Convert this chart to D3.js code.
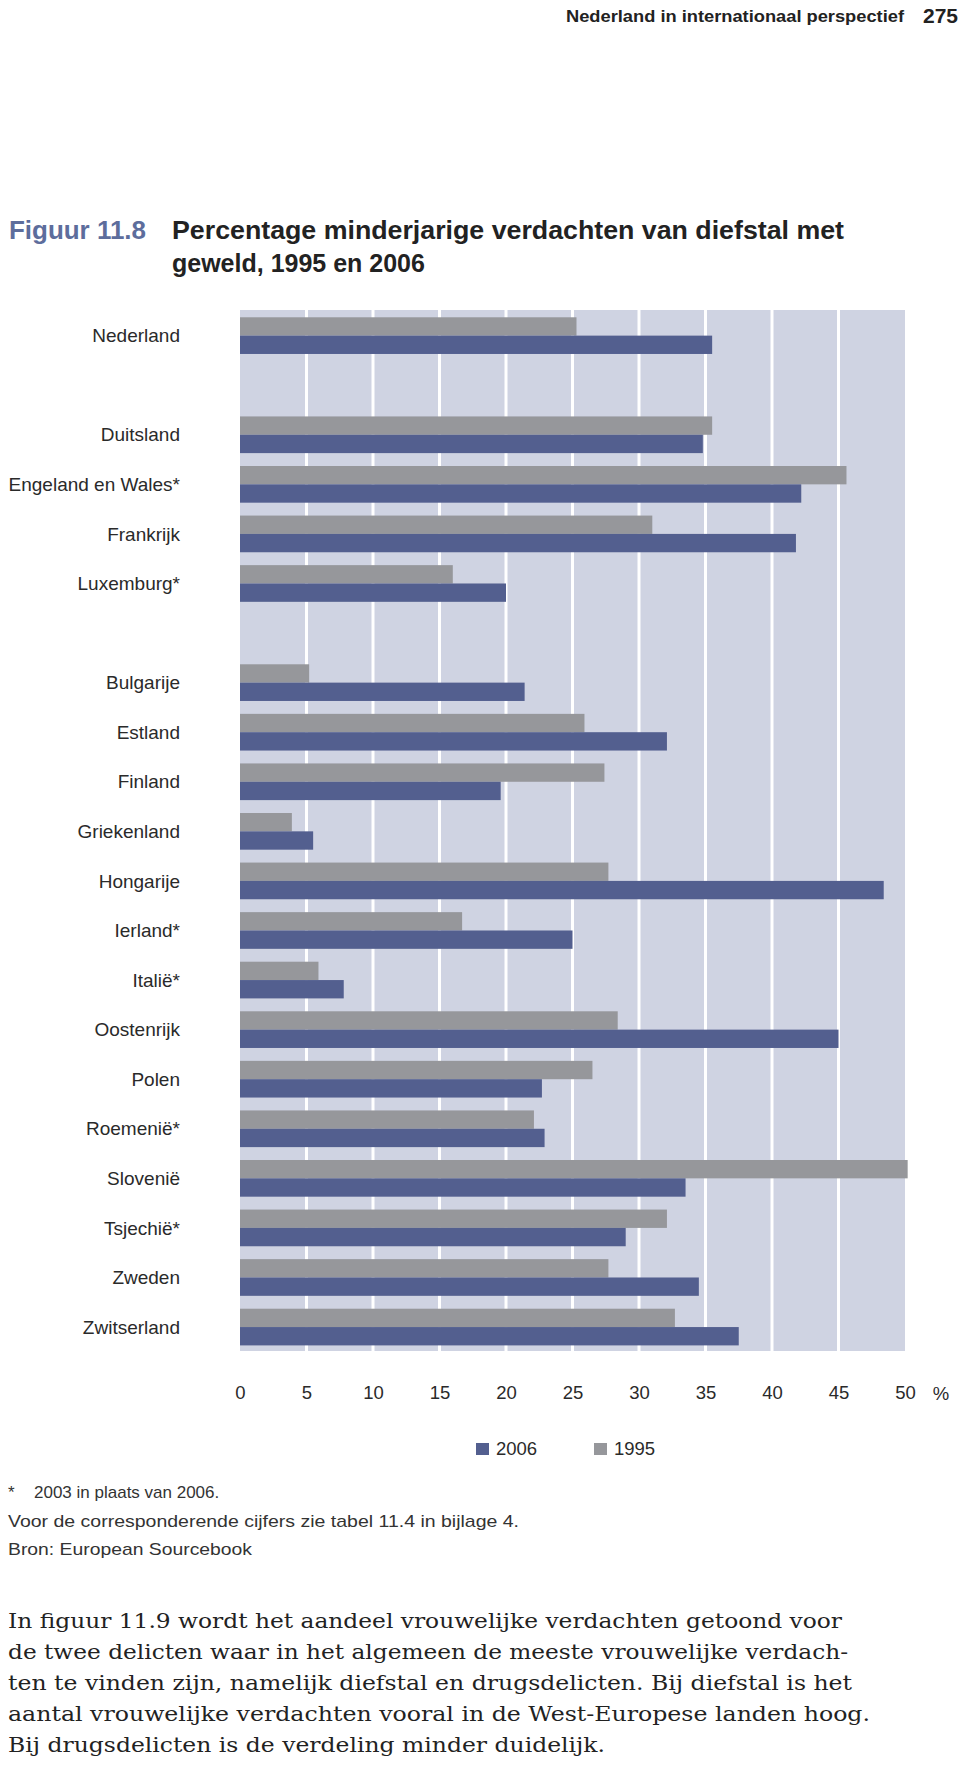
<!DOCTYPE html>
<html>
<head>
<meta charset="utf-8">
<script src="https://cdn.jsdelivr.net/npm/d3@7"></script>
<style>
  html, body { margin: 0; padding: 0; background: #fff; }
  svg { display: block; font-family: "Liberation Sans", Arial, sans-serif; }
</style>
</head>
<body>
<script>
// ---- data ----
const categories = ["Nederland", "Duitsland", "Engeland en Wales*", "Frankrijk", "Luxemburg*",
  "Bulgarije", "Estland", "Finland", "Griekenland", "Hongarije", "Ierland*", "Italië*",
  "Oostenrijk", "Polen", "Roemenië*", "Slovenië", "Tsjechië*", "Zweden", "Zwitserland"];
const groupStarts = ["Duitsland", "Bulgarije"]; // a blank row precedes these
const values1995 = [25.3, 35.5, 45.6, 31.0, 16.0, 5.2, 25.9, 27.4, 3.9, 27.7, 16.7, 5.9, 28.4, 26.5, 22.1, 50.2, 32.1, 27.7, 32.7];
const values2006 = [35.5, 34.8, 42.2, 41.8, 20.0, 21.4, 32.1, 19.6, 5.5, 48.4, 25.0, 7.8, 45.0, 22.7, 22.9, 33.5, 29.0, 34.5, 37.5];
const seriesNames = ["1995", "2006"];
const legendOrder = ["2006", "1995"];
const xTicks = [0, 5, 10, 15, 20, 25, 30, 35, 40, 45, 50];
const gridTicks = [5, 10, 15, 20, 25, 30, 35, 40, 45];
const xUnit = "%";
const headerText = "Nederland in internationaal perspectief";
const pageNumber = "275";
const figLabel = "Figuur 11.8";
const titleLines = ["Percentage minderjarige verdachten van diefstal met", "geweld, 1995 en 2006"];
const footnotes = ["2003 in plaats van 2006.", "Voor de corresponderende cijfers zie tabel 11.4 in bijlage 4.", "Bron: European Sourcebook"];
const paragraph = [
  "In figuur 11.9 wordt het aandeel vrouwelijke verdachten getoond voor",
  "de twee delicten waar in het algemeen de meeste vrouwelijke verdach-",
  "ten te vinden zijn, namelijk diefstal en drugsdelicten. Bij diefstal is het",
  "aantal vrouwelijke verdachten vooral in de West-Europese landen hoog.",
  "Bij drugsdelicten is de verdeling minder duidelijk."
];
const paragraphWidths = [834, 840, 844, 862, 597];

// ---- build ----
const colors = { "2006": "#535f8f", "1995": "#96979b" };
const W = 960, H = 1765;
const svg = d3.select("body").append("svg").attr("width", W).attr("height", H);

// header
svg.append("text").attr("x", 904).attr("y", 22).attr("text-anchor", "end")
  .attr("font-size", 16).attr("font-weight", "bold").attr("fill", "#222")
  .attr("textLength", 338).attr("lengthAdjust", "spacingAndGlyphs").text(headerText);
svg.append("text").attr("x", 958).attr("y", 23).attr("text-anchor", "end")
  .attr("font-size", 21).attr("font-weight", "bold").attr("fill", "#222").text(pageNumber);

// title
svg.append("text").attr("x", 9).attr("y", 239).attr("font-size", 25).attr("font-weight", "bold")
  .attr("fill", "#5d6d9c").attr("textLength", 137).attr("lengthAdjust", "spacingAndGlyphs").text(figLabel);
svg.append("text").attr("x", 172).attr("y", 239).attr("font-size", 25).attr("font-weight", "bold")
  .attr("fill", "#222").attr("textLength", 672).attr("lengthAdjust", "spacingAndGlyphs").text(titleLines[0]);
svg.append("text").attr("x", 172).attr("y", 272).attr("font-size", 25).attr("font-weight", "bold")
  .attr("fill", "#222").text(titleLines[1]);

// row domain with blank spacer rows
const rows = [];
categories.forEach(c => { if (groupStarts.includes(c)) rows.push("__gap" + rows.length); rows.push(c); });

const pLeft = 240, pRight = 905, pTop = 310, pBottom = 1351;
const x = d3.scaleLinear().domain([0, 50]).range([pLeft, pRight]);
const y = d3.scaleBand().domain(rows).range([pTop, pBottom]);
const bw = y.bandwidth();
const ySub = d3.scaleBand().domain(seriesNames).range([bw * 0.147, bw * 0.887]);

// background
svg.append("rect").attr("x", x(0)).attr("y", pTop).attr("width", x(50) - x(0)).attr("height", pBottom - pTop)
  .attr("fill", "#cfd3e2");
// gridlines
svg.append("g").selectAll("line").data(gridTicks).join("line")
  .attr("x1", d => x(d)).attr("x2", d => x(d)).attr("y1", pTop).attr("y2", pBottom)
  .attr("stroke", "#fff").attr("stroke-width", 3);

// bars
const data = categories.map((c, i) => ({ c, v: { "1995": values1995[i], "2006": values2006[i] } }));
const g = svg.append("g").selectAll("g").data(data).join("g")
  .attr("transform", d => `translate(0,${y(d.c)})`);
g.selectAll("rect").data(d => seriesNames.map(s => ({ s, v: d.v[s] }))).join("rect")
  .attr("x", x(0)).attr("y", d => ySub(d.s)).attr("height", ySub.bandwidth())
  .attr("width", d => x(d.v) - x(0)).attr("fill", d => colors[d.s]);

// category labels
svg.append("g").selectAll("text").data(categories).join("text")
  .attr("x", 180).attr("y", d => y(d) + bw * 0.517).attr("dy", "0.35em")
  .attr("text-anchor", "end").attr("font-size", 19).attr("fill", "#2a2a2a").text(d => d);

// x axis tick labels
const xAxis = d3.axisBottom(x).tickValues(xTicks).tickSize(0).tickPadding(0);
const ax = svg.append("g").attr("transform", `translate(0,1386)`).call(xAxis);
ax.select(".domain").remove();
ax.attr("font-family", null).attr("font-size", null);
ax.selectAll("text").attr("font-size", 18.5).attr("fill", "#2a2a2a").attr("dy", "0.71em");
svg.append("text").attr("x", 941).attr("y", 1400).attr("text-anchor", "middle")
  .attr("font-size", 18.5).attr("fill", "#2a2a2a").text(xUnit);

// legend
const legX = { "2006": 476, "1995": 594 };
const lg = svg.append("g").selectAll("g").data(legendOrder).join("g")
  .attr("transform", d => `translate(${legX[d]},1443)`);
lg.append("rect").attr("width", 13).attr("height", 12).attr("fill", d => colors[d]);
lg.append("text").attr("x", 20).attr("y", 12).attr("font-size", 18.5).attr("fill", "#2a2a2a").text(d => d);

// footnotes
svg.append("text").attr("x", 8).attr("y", 1498).attr("font-size", 17).attr("fill", "#333").text("*");
svg.append("text").attr("x", 34).attr("y", 1498).attr("font-size", 17).attr("fill", "#333").text(footnotes[0]);
svg.append("text").attr("x", 8).attr("y", 1527).attr("font-size", 17).attr("fill", "#333")
  .attr("textLength", 511).attr("lengthAdjust", "spacingAndGlyphs").text(footnotes[1]);
svg.append("text").attr("x", 8).attr("y", 1555).attr("font-size", 17).attr("fill", "#333")
  .attr("textLength", 244).attr("lengthAdjust", "spacingAndGlyphs").text(footnotes[2]);

// paragraph
svg.append("g").selectAll("text").data(paragraph).join("text")
  .attr("x", 8).attr("y", (d, i) => 1628 + i * 31.1)
  .style("font-family", "'DejaVu Serif', 'Liberation Serif', serif").attr("font-size", 19.5).attr("fill", "#222")
  .attr("textLength", (d, i) => paragraphWidths[i]).attr("lengthAdjust", "spacingAndGlyphs")
  .text(d => d);
</script>
</body>
</html>
